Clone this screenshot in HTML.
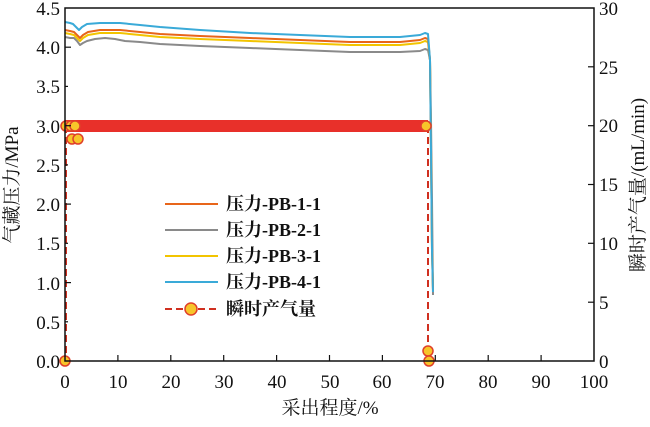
<!DOCTYPE html>
<html><head><meta charset="utf-8"><style>
body{margin:0;background:#fff;}
svg text{font-family:"Liberation Serif","Noto Serif CJK SC",serif;fill:#111;}
</style></head><body>
<svg width="650" height="422" viewBox="0 0 650 422" xmlns="http://www.w3.org/2000/svg">
<rect width="650" height="422" fill="#fff"/>
<g fill="none" stroke-width="2" stroke-linejoin="round">
<polyline stroke="#8a8a8a" points="65,37 70,38 74,38 77,41 80,45 83,43 87,41 95,39 105,38 115,39 125,41 140,42 160,44 200,46 250,48 300,50 350,52 400,52 420,51 425,49 428,50 430,60 431,120 432,200 433,295"/>
<polyline stroke="#f2c400" points="65,33 70,34 74,35 77,38 80,41 83,38 88,35 100,33 120,33 140,35 160,37 200,39 250,41 300,43 350,45 400,45 420,43 425,41 428,42 430,60 431,150 432,250 433,290"/>
<polyline stroke="#e8651a" points="65,30 70,31 74,32 77,35 80,38 83,35 88,32 100,30 120,30 140,32 160,34 200,36 250,38 300,40 350,42 400,42 420,40 425,38 428,39 430,60 431,150 432,250 433,290"/>
<polyline stroke="#3aaad8" points="65,22 70,23 73,24 76,27 79,30 82,27 87,24 100,23 120,23 140,25 160,27 200,30 250,33 300,35 350,37 400,37 420,35 425,33 428,34 430,60 431,150 432,250 433,292"/>
</g>
<rect x="65" y="120" width="363" height="12" fill="#e8302a"/>
<g stroke="#d03020" stroke-width="2" stroke-dasharray="7,4">
<line x1="66" y1="126" x2="66" y2="361"/>
<line x1="428" y1="126" x2="428" y2="361"/>
</g>
<g fill="#f7c52a" stroke="#e0402a" stroke-width="1.5">
<circle cx="66" cy="126" r="5"/><circle cx="71" cy="126" r="5"/><circle cx="75" cy="126" r="5"/>
<circle cx="72" cy="139" r="5"/><circle cx="78" cy="139" r="5"/>
<circle cx="426" cy="126" r="5"/>
<circle cx="428" cy="351" r="5"/><circle cx="429" cy="361" r="5"/>
<circle cx="65" cy="361" r="5"/>
</g>
<rect x="65" y="8" width="529" height="353" fill="none" stroke="#111" stroke-width="1.5"/>
<g stroke="#111" stroke-width="1.2">
<line x1="65" y1="282.6" x2="71" y2="282.6"/><line x1="65" y1="204.1" x2="71" y2="204.1"/><line x1="65" y1="125.7" x2="71" y2="125.7"/><line x1="65" y1="47.2" x2="71" y2="47.2"/>
<line x1="65" y1="321.8" x2="68" y2="321.8"/><line x1="65" y1="243.3" x2="68" y2="243.3"/><line x1="65" y1="164.9" x2="68" y2="164.9"/><line x1="65" y1="86.4" x2="68" y2="86.4"/>
<line x1="594" y1="302.2" x2="588" y2="302.2"/><line x1="594" y1="243.3" x2="588" y2="243.3"/><line x1="594" y1="184.5" x2="588" y2="184.5"/><line x1="594" y1="125.7" x2="588" y2="125.7"/><line x1="594" y1="66.8" x2="588" y2="66.8"/>
<line x1="117.9" y1="361" x2="117.9" y2="355"/><line x1="170.8" y1="361" x2="170.8" y2="355"/><line x1="223.7" y1="361" x2="223.7" y2="355"/><line x1="276.6" y1="361" x2="276.6" y2="355"/><line x1="329.5" y1="361" x2="329.5" y2="355"/><line x1="382.4" y1="361" x2="382.4" y2="355"/><line x1="435.3" y1="361" x2="435.3" y2="355"/><line x1="488.2" y1="361" x2="488.2" y2="355"/><line x1="541.1" y1="361" x2="541.1" y2="355"/>
</g>
<g font-size="19" text-anchor="end">
<text x="60" y="368">0.0</text><text x="60" y="329">0.5</text><text x="60" y="290">1.0</text><text x="60" y="250">1.5</text><text x="60" y="211">2.0</text>
<text x="60" y="172">2.5</text><text x="60" y="133">3.0</text><text x="60" y="93">3.5</text><text x="60" y="54">4.0</text><text x="60" y="15">4.5</text>
</g>
<g font-size="19" text-anchor="start">
<text x="599" y="368">0</text><text x="599" y="309">5</text><text x="599" y="250">10</text><text x="599" y="191">15</text><text x="599" y="132">20</text><text x="599" y="74">25</text><text x="599" y="15">30</text>
</g>
<g font-size="19" text-anchor="middle">
<text x="65" y="388">0</text><text x="118" y="388">10</text><text x="171" y="388">20</text><text x="224" y="388">30</text><text x="277" y="388">40</text><text x="330" y="388">50</text><text x="382" y="388">60</text><text x="435" y="388">70</text><text x="488" y="388">80</text><text x="541" y="388">90</text><text x="594" y="388">100</text>
</g>
<text x="330" y="414" font-size="19" text-anchor="middle">采出程度/%</text>
<text transform="translate(18,185) rotate(-90)" font-size="19" text-anchor="middle">气藏压力/MPa</text>
<text transform="translate(644,185) rotate(-90)" font-size="19" text-anchor="middle">瞬时产气量/(mL/min)</text>
<g stroke-width="2">
<line x1="165" y1="204" x2="218" y2="204" stroke="#e8651a"/>
<line x1="165" y1="230" x2="218" y2="230" stroke="#8a8a8a"/>
<line x1="165" y1="256" x2="218" y2="256" stroke="#f2c400"/>
<line x1="165" y1="282" x2="218" y2="282" stroke="#3aaad8"/>
<line x1="165" y1="309" x2="218" y2="309" stroke="#d03020" stroke-dasharray="7,4"/>
</g>
<circle cx="191" cy="309" r="6" fill="#f7c52a" stroke="#e0402a" stroke-width="1.5"/>
<g font-size="18" font-weight="bold">
<text x="226" y="210">压力-PB-1-1</text>
<text x="226" y="236">压力-PB-2-1</text>
<text x="226" y="262">压力-PB-3-1</text>
<text x="226" y="288">压力-PB-4-1</text>
<text x="226" y="315">瞬时产气量</text>
</g>
</svg>
</body></html>
